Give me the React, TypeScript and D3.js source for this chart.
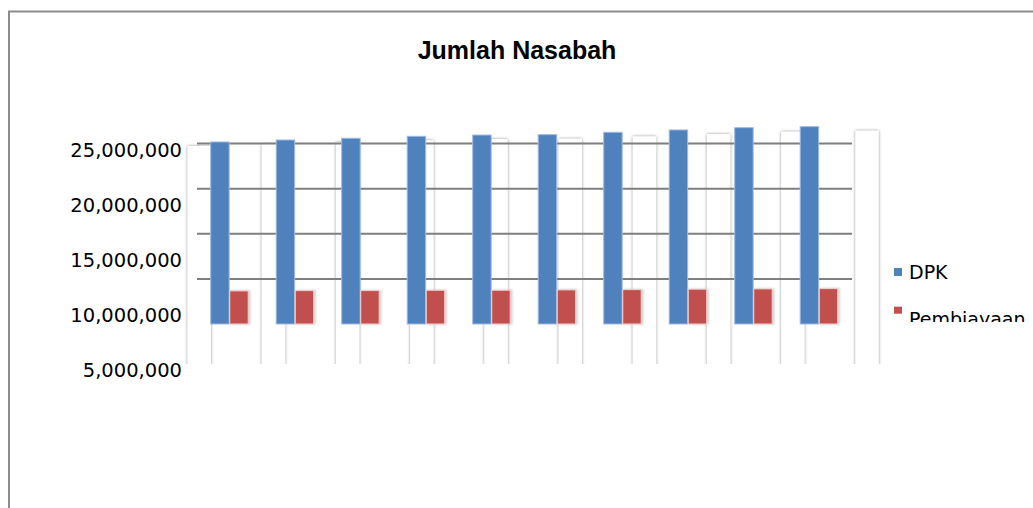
import * as d3 from "d3";

const WIDTH = 1033;
const HEIGHT = 508;

// periods on the category axis (no labels are printed in the original)
const PERIODS = ["1", "2", "3", "4", "5", "6", "7", "8", "9", "10"];
const SERIES = ["DPK", "Pembiayaan"];
const DPK = [25170000, 25390000, 25580000, 25800000, 25940000, 25980000, 26240000, 26500000, 26760000, 26870000];
const PEMBIAYAAN = [8670000, 8700000, 8700000, 8740000, 8740000, 8780000, 8810000, 8860000, 8890000, 8920000];
const GRID_TICKS = [10000000, 15000000, 20000000, 25000000];
const LABEL_TICKS = [5000000, 10000000, 15000000, 20000000, 25000000];

const COLORS: Record<string, string> = { DPK: "#4F81BD", Pembiayaan: "#C0504D" };
const STROKES: Record<string, string> = { DPK: "#9fbbe0", Pembiayaan: "#f0d2d1" };

const FONT = "'DejaVu Sans', sans-serif";
const fmt = d3.format(",");

export default function App() {
  const y = d3.scaleLinear().domain([5000000, 25000000]).range([324, 143.5]);
  // the tick labels sit on a slightly different (stretched) scale than the gridlines
  const labelY = d3.scaleLinear().domain([5000000, 25000000]).range([371.5, 151.5]);

  const x = d3.scaleBand().domain(PERIODS).range([210.7, 865.7]).padding(0);
  const inner = d3.scaleBand().domain(SERIES).range([0, 37.5]).paddingInner(0.03);
  // white "back" columns of the 3D rendering
  const xBack = d3.scaleBand().domain(PERIODS).range([187.5, 929.5]).padding(0);
  const backW = 23.5;
  const backBottom = 366;

  const values: Record<string, number[]> = { DPK, Pembiayaan: PEMBIAYAAN };

  return (
    <svg
      width={WIDTH}
      height={HEIGHT}
      style={{ position: "absolute", left: 0, top: 0, background: "#fff" }}
    >
      <defs>
        <filter id="soft" x="-50%" y="-10%" width="200%" height="120%">
          <feDropShadow dx="0" dy="0" stdDeviation="1.8" floodColor="#7a7a7a" floodOpacity="0.85" />
        </filter>
        <filter id="barShadow" x="-30%" y="-10%" width="160%" height="120%">
          <feDropShadow dx="1.5" dy="0" stdDeviation="1.2" floodColor="#999" floodOpacity="0.5" />
        </filter>
        <clipPath id="legendClip">
          <rect x={860} y={240} width={173} height={82} />
        </clipPath>
        <clipPath id="plotClip">
          <rect x={0} y={0} width={WIDTH} height={364} />
        </clipPath>
      </defs>

      {/* outer frame */}
      <line x1={8} x2={WIDTH} y1={11.5} y2={11.5} stroke="#8c8c8c" strokeWidth={2} />
      <line x1={9} x2={9} y1={11} y2={HEIGHT} stroke="#8c8c8c" strokeWidth={2} />

      <text
        x={517}
        y={59}
        textAnchor="middle"
        fontFamily="'Liberation Sans', Arial, sans-serif"
        fontWeight={700}
        fontSize={25}
        fill="#000"
      >
        Jumlah Nasabah
      </text>

      {/* back columns */}
      <g clipPath="url(#plotClip)">
        {PERIODS.map((p, i) => (
          <rect
            key={`back-${p}`}
            x={xBack(p)!}
            y={y(DPK[i]) + 4}
            width={backW}
            height={backBottom - (y(DPK[i]) + 4)}
            fill="#fff"
            filter="url(#soft)"
          />
        ))}
      </g>

      {/* gridlines */}
      <g>
        {GRID_TICKS.map((t) => (
          <line key={t} x1={197} x2={852} y1={y(t)} y2={y(t)} stroke="#7f7f7f" strokeWidth={2} />
        ))}
      </g>

      {/* bars */}
      <g>
        {PERIODS.map((p, i) =>
          SERIES.map((s) => {
            const v = values[s][i];
            return (
              <rect
                key={`${s}-${p}`}
                x={x(p)! + inner(s)!}
                y={y(v)}
                width={inner.bandwidth()}
                height={y(5000000) - y(v)}
                fill={COLORS[s]}
                stroke={STROKES[s]}
                strokeWidth={1}
                filter={s === "Pembiayaan" ? "url(#barShadow)" : undefined}
              />
            );
          }),
        )}
      </g>

      {/* y tick labels */}
      <g>
        {LABEL_TICKS.map((t) => (
          <text
            key={t}
            x={182}
            y={labelY(t)}
            textAnchor="end"
            dominantBaseline="middle"
            fontFamily={FONT}
            fontSize={19.5}
            fill="#000"
          >
            {fmt(t)}
          </text>
        ))}
      </g>

      {/* legend (bottom of the second entry is cut off, as in the original) */}
      <g clipPath="url(#legendClip)">
        {SERIES.map((s, i) => (
          <g key={s} transform={`translate(894, ${268 + i * 38.7})`}>
            <rect width={8} height={i === 0 ? 8 : 7} fill={COLORS[s]} />
            <text x={15} y={11 + i * 8} fontFamily={FONT} fontSize={19} fill="#000">
              {s}
            </text>
          </g>
        ))}
      </g>
    </svg>
  );
}
